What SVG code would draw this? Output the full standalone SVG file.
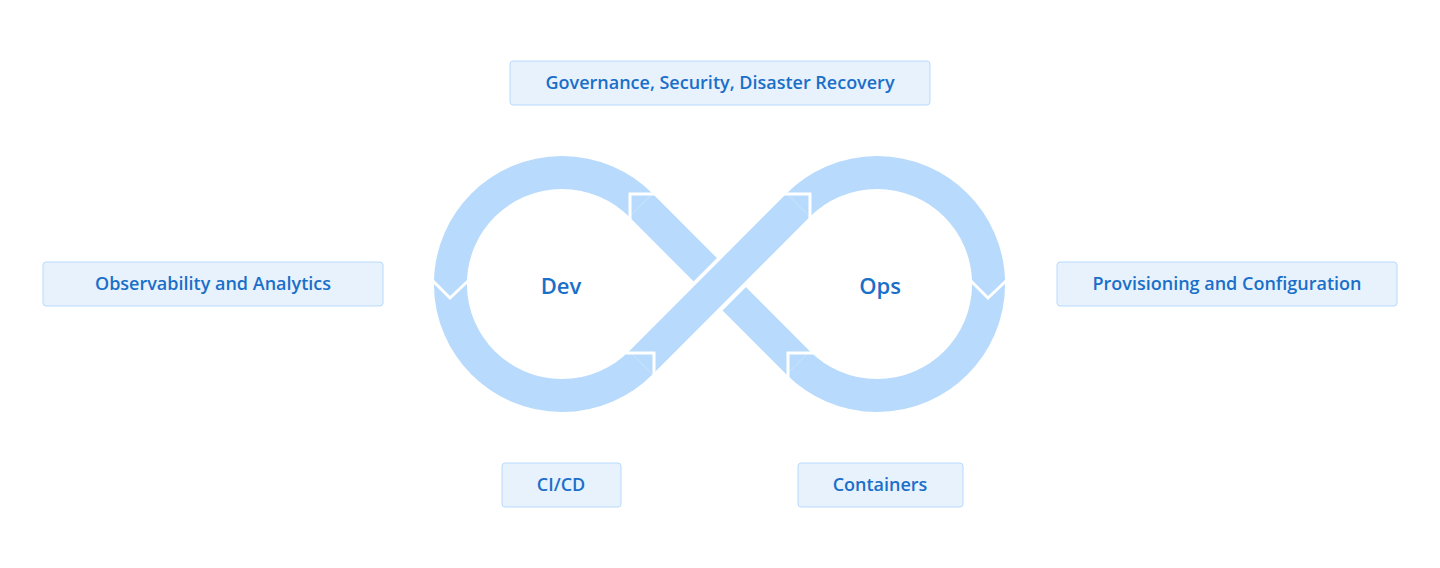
<svg xmlns="http://www.w3.org/2000/svg" width="1440" height="568" viewBox="0 0 1440 568">
<style>
.box{fill:#e8f2fd;stroke:#b8dafc;stroke-width:1}
.t{font-family:"Open Sans","Noto Sans",sans-serif;font-size:18px;font-weight:600;fill:#1a6fc9;text-anchor:middle}
.big{font-size:22px}
.band{fill:none;stroke:#b8dafc;stroke-width:33}
.cut{fill:none;stroke:#fff;stroke-width:3}
</style>
<rect width="1440" height="568" fill="#fff"/>
<g id="loop">
<path class="band" d="M640.8,205.2 A111.5,111.5 0 1 0 640.8,362.8"/>
<path class="band" d="M798.2,205.2 A111.5,111.5 0 1 1 798.2,362.8"/>
<path class="band" d="M640.8,205.2 L798.2,362.8"/>
<path d="M680,324 L760,244" fill="none" stroke="#fff" stroke-width="41"/>
<path class="band" d="M640.8,362.8 L798.2,205.2"/>
<polyline class="cut" points="630,224 630,194 657,194"/>
<polyline class="cut" points="626,353 654,353 654,382"/>
<polyline class="cut" points="782,194 810,194 810,224"/>
<polyline class="cut" points="788,382 788,353 814,353"/>
<polyline class="cut" points="432,280 450,298 469,280"/>
<polyline class="cut" points="970,280 988,298 1007,280"/>
<text class="t big" x="561" y="294">Dev</text>
<text class="t big" x="880" y="294">Ops</text>
</g>
<g id="governance"><rect class="box" x="510" y="61" width="420" height="44" rx="3"/><text class="t" x="720" y="89">Governance, Security, Disaster Recovery</text></g>
<g id="observability"><rect class="box" x="43" y="262" width="340" height="44" rx="3"/><text class="t" x="213" y="290">Observability and Analytics</text></g>
<g id="provisioning"><rect class="box" x="1057" y="262" width="340" height="44" rx="3"/><text class="t" x="1227" y="290">Provisioning and Configuration</text></g>
<g id="cicd"><rect class="box" x="502" y="463" width="119" height="44" rx="3"/><text class="t" x="561" y="491">CI/CD</text></g>
<g id="containers"><rect class="box" x="798" y="463" width="165" height="44" rx="3"/><text class="t" x="880" y="491">Containers</text></g>
<g id="connectors"></g>
</svg>
